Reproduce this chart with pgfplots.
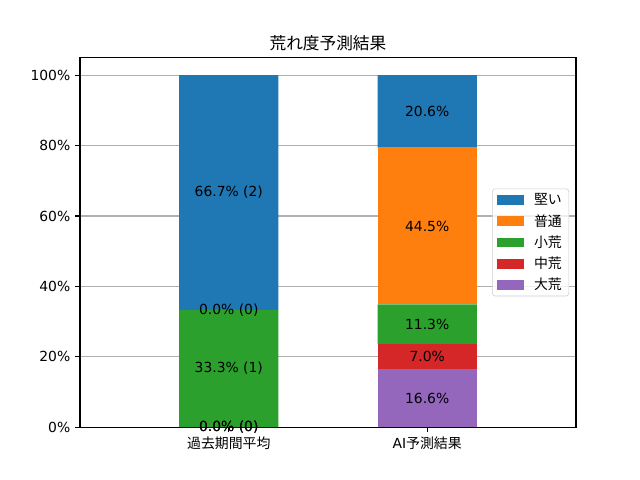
\documentclass[border=0pt]{standalone}
\usepackage{fontspec}
\setmainfont{DejaVu Sans}
\newfontfamily\jp{Noto Sans CJK JP}
\usepackage{pgfplots}
\pgfplotsset{compat=1.18}
\usepackage{pgfplotstable}
\definecolor{tabblue}{HTML}{1F77B4}
\definecolor{taborange}{HTML}{FF7F0E}
\definecolor{tabgreen}{HTML}{2CA02C}
\definecolor{tabred}{HTML}{D62728}
\definecolor{tabpurple}{HTML}{9467BD}
\definecolor{gridgray}{HTML}{B0B0B0}
\definecolor{legedge}{HTML}{CCCCCC}

\pgfplotstableread{
x daiko chuko shoko futsu katai
0 0 0 33.3 0 66.7
1 16.6 7.0 11.3 44.5 20.6
}\bars

\pgfplotstableread[col sep=comma]{
x,y,label
0,0,0.0\% (0)
0,0,0.0\% (0)
0,16.65,33.3\% (1)
0,33.3,0.0\% (0)
0,66.65,66.7\% (2)
1,8.3,16.6\%
1,20.1,7.0\%
1,29.25,11.3\%
1,57.15,44.5\%
1,89.7,20.6\%
}\labels

\begin{document}
\begin{tikzpicture}
\pgfplotsset{
  common/.style={
    width=357.12pt, height=266.112pt, scale only axis,
    at={(0,0)}, anchor=south west,
    xmin=-0.75, xmax=1.75, ymin=0, ymax=105,
  }
}
\begin{axis}[common,
  set layers,
  ybar stacked, bar width=0.5,
  font=\fontsize{10}{12}\selectfont,
  xtick={0,1},
  xticklabels={{\jp 過去期間平均},{AI\jp 予測結果}},
  ytick={0,20,40,60,80,100},
  yticklabels={0\%,20\%,40\%,60\%,80\%,100\%},
  xtick pos=left, ytick pos=left,
  tick align=outside, major tick length=3.5pt,
  tick style={black, line width=0.8pt},
  axis line style={line width=0.8pt},
  ymajorgrids, grid style={gridgray, line width=0.8pt},
  title={\jp 荒れ度予測結果},
  title style={font=\fontsize{12}{14}\selectfont, yshift=-5pt},
  reverse legend,
  legend cell align=left,
  legend style={at={(1,0.5)}, anchor=east, xshift=-5pt,
    draw=legedge, rounded corners=2pt, fill=white, fill opacity=0.8, text opacity=1,
    font=\fontsize{10}{12}\selectfont,
    inner xsep=3pt, inner ysep=3pt,
    row sep=5.3pt,
    nodes={text height=8.5pt, text depth=1.5pt, inner ysep=0pt},
    /tikz/every odd column/.append style={column sep=5pt}},
  legend image code/.code={\fill[#1, fill opacity=1, sharp corners] (0pt,-3.5pt) rectangle (20pt,3.5pt);},
]
\addplot[fill=tabpurple, draw=none] table[x=x, y=daiko] {\bars};
\addlegendentry{\jp 大荒}
\addplot[fill=tabred, draw=none] table[x=x, y=chuko] {\bars};
\addlegendentry{\jp 中荒}
\addplot[fill=tabgreen, draw=none] table[x=x, y=shoko] {\bars};
\addlegendentry{\jp 小荒}
\addplot[fill=taborange, draw=none] table[x=x, y=futsu] {\bars};
\addlegendentry{\jp 普通}
\addplot[fill=tabblue, draw=none] table[x=x, y=katai] {\bars};
\addlegendentry{\jp 堅い}
\end{axis}
\begin{axis}[common, hide axis, clip=false]
\addplot[only marks, mark=none, nodes near coords, point meta=explicit symbolic,
  every node near coord/.append style={anchor=center, font=\fontsize{10}{12}\selectfont, text=black}]
  table[x=x, y=y, meta=label] {\labels};
\end{axis}
\pgfresetboundingbox
\path (-57.6pt,-38.016pt) rectangle (403.2pt,307.584pt);
\end{tikzpicture}
\end{document}
